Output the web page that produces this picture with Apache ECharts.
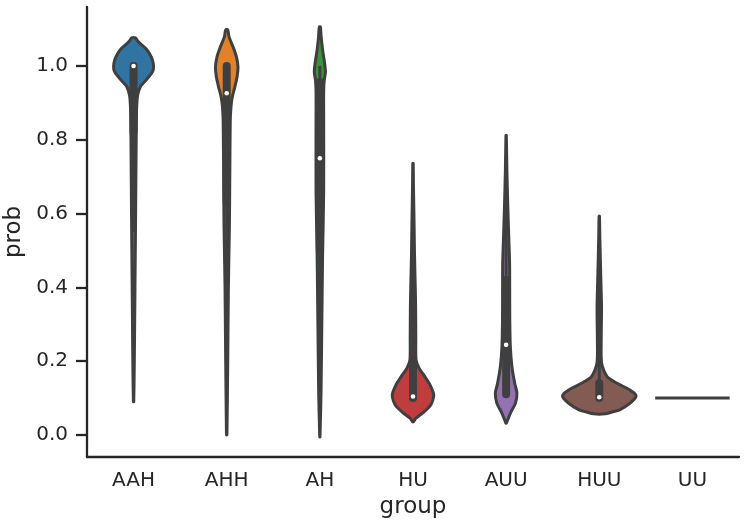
<!DOCTYPE html>
<html>
<head>
<meta charset="utf-8">
<title>violin</title>
<script src="https://cdn.jsdelivr.net/npm/echarts@6/dist/echarts.min.js"></script>
<style>
  html, body { margin: 0; padding: 0; background: #fff; }
  #chart { width: 746px; height: 527px; }
</style>
</head>
<body>
<div id="chart"></div>
<script>
// categories
const groups = ['AAH', 'AHH', 'AH', 'HU', 'AUU', 'HUU', 'UU']
const colors = ['#3274a1', '#e1812c', '#3a923a', '#c03d3e', '#9372b2', '#845b53', '#d684bd']
const yTicks = [0, 0.2, 0.4, 0.6, 0.8, 1.0]

// density outline per group: prob values and half-width (fraction of category band)
const kdeY = [
  [0.09, 0.2, 0.4, 0.6, 0.8, 0.88, 0.92, 0.945, 0.957, 0.97, 0.985, 0.998, 1.015, 1.033, 1.048, 1.06, 1.07, 1.076],
  [0.0, 0.03, 0.2, 0.4, 0.57, 0.7, 0.85, 0.89, 0.916, 0.943, 0.97, 0.997, 1.024, 1.052, 1.079, 1.098],
  [-0.006, 0.03, 0.12, 0.3, 0.48, 0.66, 0.85, 0.934, 0.961, 0.984, 1.006, 1.043, 1.079, 1.106],
  [0.036, 0.045, 0.059, 0.081, 0.108, 0.135, 0.158, 0.181, 0.203, 0.266, 0.347, 0.402, 0.492, 0.582, 0.672, 0.736],
  [0.032, 0.059, 0.086, 0.113, 0.14, 0.185, 0.239, 0.311, 0.402, 0.465, 0.537, 0.627, 0.718, 0.812],
  [0.057, 0.062, 0.068, 0.086, 0.106, 0.122, 0.14, 0.158, 0.194, 0.266, 0.347, 0.447, 0.537, 0.593],
  [0.1]
]
const kdeWidth = [
  [0.002, 0.008, 0.015, 0.022, 0.028, 0.032, 0.043, 0.075, 0.118, 0.161, 0.204, 0.215, 0.204, 0.172, 0.129, 0.075, 0.038, 0.021],
  [0.002, 0.004, 0.011, 0.018, 0.029, 0.033, 0.038, 0.046, 0.060, 0.087, 0.111, 0.121, 0.105, 0.068, 0.025, 0.011],
  [0.001, 0.005, 0.013, 0.021, 0.029, 0.041, 0.041, 0.041, 0.047, 0.060, 0.052, 0.030, 0.014, 0.006],
  [0.006, 0.030, 0.102, 0.191, 0.223, 0.184, 0.127, 0.065, 0.033, 0.030, 0.028, 0.024, 0.016, 0.011, 0.005, 0.002],
  [0.003, 0.046, 0.100, 0.116, 0.092, 0.062, 0.045, 0.039, 0.038, 0.037, 0.028, 0.017, 0.008, 0.002],
  [0.062, 0.137, 0.218, 0.331, 0.395, 0.325, 0.191, 0.084, 0.025, 0.021, 0.024, 0.014, 0.006, 0.002],
  [0.4]
]

// inner box stats (null = single observation)
const q1 = [0.82, 0.63, 0.5, 0.1, 0.11, 0.1, null]
const median = [1.0, 0.926, 0.75, 0.104, 0.244, 0.102, null]
const q3 = [1.0, 1.0, 0.957, 0.2, 0.42, 0.14, null]
const whiskerLo = [0.55, 0.08, 0.05, 0.1, 0.1, 0.1, null]
const whiskerHi = [1.0, 1.0, 1.0, 0.55, 0.75, 0.5, null]

const EDGE = '#3f3f3f'
const AXIS = '#262626'
const FONT = 'DejaVu Sans'

function renderViolin(params, api) {
  const i = api.value(0)
  const band = api.size([1, 0])[0]
  const cx = api.coord([i, 0])[0]
  const ys = kdeY[i]
  const ws = kdeWidth[i]
  const children = []

  if (ys.length === 1) {
    const py = api.coord([i, ys[0]])[1]
    children.push({
      type: 'line',
      shape: { x1: cx - ws[0] * band, y1: py, x2: cx + ws[0] * band, y2: py },
      style: { stroke: EDGE, lineWidth: 3 }
    })
    return { type: 'group', children }
  }

  const left = ys.map((y, k) => [cx - ws[k] * band, api.coord([i, y])[1]])
  const right = ys.map((y, k) => [cx + ws[k] * band, api.coord([i, y])[1]]).reverse()
  children.push({
    type: 'polygon',
    shape: { points: left.concat(right), smooth: 0.25 },
    style: { fill: colors[i], stroke: EDGE, lineWidth: 3, lineJoin: 'round' }
  })

  const yLo = api.coord([i, whiskerLo[i]])[1]
  const yHi = api.coord([i, whiskerHi[i]])[1]
  children.push({
    type: 'line',
    shape: { x1: cx, y1: yLo, x2: cx, y2: yHi },
    style: { stroke: EDGE, lineWidth: 3 }
  })
  const yQ1 = api.coord([i, q1[i]])[1]
  const yQ3 = api.coord([i, q3[i]])[1]
  children.push({
    type: 'line',
    shape: { x1: cx, y1: yQ1, x2: cx, y2: yQ3 },
    style: { stroke: EDGE, lineWidth: 8, lineCap: 'round' }
  })
  const yMed = api.coord([i, median[i]])[1]
  children.push({
    type: 'circle',
    shape: { cx: cx, cy: yMed, r: 2.3 },
    style: { fill: '#ffffff' }
  })
  return { type: 'group', children }
}

const chart = echarts.init(document.getElementById('chart'), null, { renderer: 'canvas' })
chart.setOption({
  animation: false,
  backgroundColor: '#ffffff',
  grid: { left: 87, right: 7, top: 7, bottom: 70, containLabel: false, outerBoundsMode: 'none' },
  xAxis: {
    type: 'category',
    data: groups,
    name: 'group',
    nameLocation: 'middle',
    nameGap: 39,
    nameTextStyle: { fontFamily: FONT, fontSize: 23, color: AXIS },
    axisLine: { onZero: false, lineStyle: { color: AXIS, width: 2.3 } },
    axisTick: { alignWithLabel: true, length: 11, lineStyle: { color: AXIS, width: 2.3 } },
    axisLabel: { fontFamily: FONT, fontSize: 20, color: AXIS, margin: 14 },
    splitLine: { show: false }
  },
  yAxis: {
    type: 'value',
    min: -0.06,
    max: 1.16,
    name: 'prob',
    nameLocation: 'middle',
    nameGap: 52,
    nameTextStyle: { fontFamily: FONT, fontSize: 23, color: AXIS },
    axisLine: { show: true, onZero: false, lineStyle: { color: AXIS, width: 2.3 } },
    axisTick: { show: true, length: 11, customValues: yTicks, lineStyle: { color: AXIS, width: 2.3 } },
    axisLabel: {
      fontFamily: FONT, fontSize: 20, color: AXIS, margin: 19,
      customValues: yTicks,
      formatter: (v) => v.toFixed(1)
    },
    splitLine: { show: false }
  },
  series: [
    {
      type: 'custom',
      renderItem: renderViolin,
      encode: { x: 0, y: 1 },
      clip: false,
      data: groups.map((g, i) => [i, kdeY[i][0]])
    }
  ]
})
</script>
</body>
</html>
